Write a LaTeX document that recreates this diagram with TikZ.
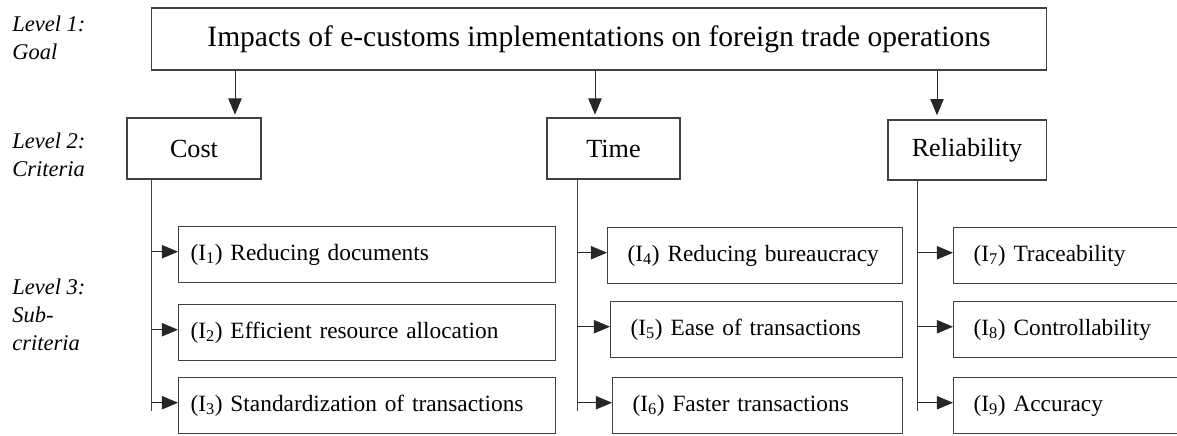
\documentclass[tikz,border=0pt]{standalone}
\usepackage{fontspec}
\setmainfont{Liberation Serif}
\usetikzlibrary{arrows.meta,positioning}
\colorlet{edge}{black!75}
\newlength\pxu
\setlength\pxu{0.025cm}

\begin{document}
\begin{tikzpicture}[
        x=\pxu, y=-\pxu,
        box/.style={rectangle, draw=edge, line width=0.75pt, inner sep=0pt, font=\fontsize{18.6}{21}\selectfont},
        subbox/.style={rectangle, draw=edge, line width=0.75pt, anchor=north west, minimum height=1.4cm, inner ysep=0pt, inner xsep=0.5cm, align=left, font=\fontsize{16.6}{19}\selectfont},
        lvl/.style={anchor=north west, align=left, inner sep=0pt, font=\fontsize{16}{19.8}\selectfont\itshape},
        link/.style={line width=0.7pt, edge},
        arr/.style={-{Triangle[length=11.5pt,width=9.5pt]}, line width=0.7pt, black!85}
    ]
    \useasboundingbox (0,0) rectangle (1177,435);
    \clip (0,0) rectangle (1177,435);
    % level labels
    \node[lvl] (l1) at (12,16)  {Level 1:\\Goal};
    \node[lvl] (l2) at (12,133) {Level 2:\\Criteria};
    \node[lvl] (l3) at (12,279) {Level 3:\\Sub-\\criteria};
    % goal and criteria
    \node[box, minimum width=22.35cm, minimum height=1.55cm, font=\fontsize{21}{24}\selectfont] (goal) at (599,39)
        {Impacts of e-customs implementations on foreign trade operations};
    \node[box, minimum width=3.35cm, minimum height=1.525cm] (cost) at (194,148.5) {Cost};
    \node[box, minimum width=3.325cm, minimum height=1.525cm] (time) at (613.5,148.5) {Time};
    \node[box, minimum width=3.95cm, minimum height=1.5cm] (rel) at (967,150) {Reliability};
    % sub-criteria
    \node[subbox, inner xsep=0.3cm, text width=8.825cm] (i1) at (178,226) {(I\textsubscript{1}) Reducing documents};
    \node[subbox, inner xsep=0.3cm, text width=8.825cm] (i2) at (178,304) {(I\textsubscript{2}) Efficient resource allocation};
    \node[subbox, inner xsep=0.3cm, text width=8.825cm] (i3) at (178,377) {(I\textsubscript{3}) Standardization of transactions};
    \node[subbox, text width=6.375cm] (i4) at (607,227) {(I\textsubscript{4}) Reducing bureaucracy};
    \node[subbox, text width=6.3cm]   (i5) at (610,301) {(I\textsubscript{5}) Ease of transactions};
    \node[subbox, text width=6.25cm]  (i6) at (612,377) {(I\textsubscript{6}) Faster transactions};
    \node[subbox, text width=5cm] (i7) at (953,227) {(I\textsubscript{7}) Traceability};
    \node[subbox, text width=5cm] (i8) at (953,301) {(I\textsubscript{8}) Controllability};
    \node[subbox, text width=5cm] (i9) at (953,377) {(I\textsubscript{9}) Accuracy};
    % connectors
    \coordinate (a1) at (235,0);
    \coordinate (a2) at (595,0);
    \coordinate (a3) at (937,0);
    \coordinate (v1) at (151,411);
    \coordinate (v2) at (577,411);
    \coordinate (v3) at (917,411);
    \draw[arr, shorten >=2pt] (goal.south -| a1) -- (cost.north -| a1);
    \draw[arr, shorten >=2pt] (goal.south -| a2) -- (time.north -| a2);
    \draw[arr, shorten >=3pt] (goal.south -| a3) -- (rel.north -| a3);
    \draw[link] (cost.south -| v1) -- (v1);
    \draw[link] (time.south -| v2) -- (v2);
    \draw[link] (rel.south -| v3) -- (v3);
    \foreach \s/\v in {i1/v1, i2/v1, i3/v1, i4/v2, i5/v2, i6/v2, i7/v3, i8/v3, i9/v3}
        \draw[arr] ([yshift=2pt]\s.west -| \v) -- ([yshift=2pt]\s.west);
\end{tikzpicture}
\end{document}
